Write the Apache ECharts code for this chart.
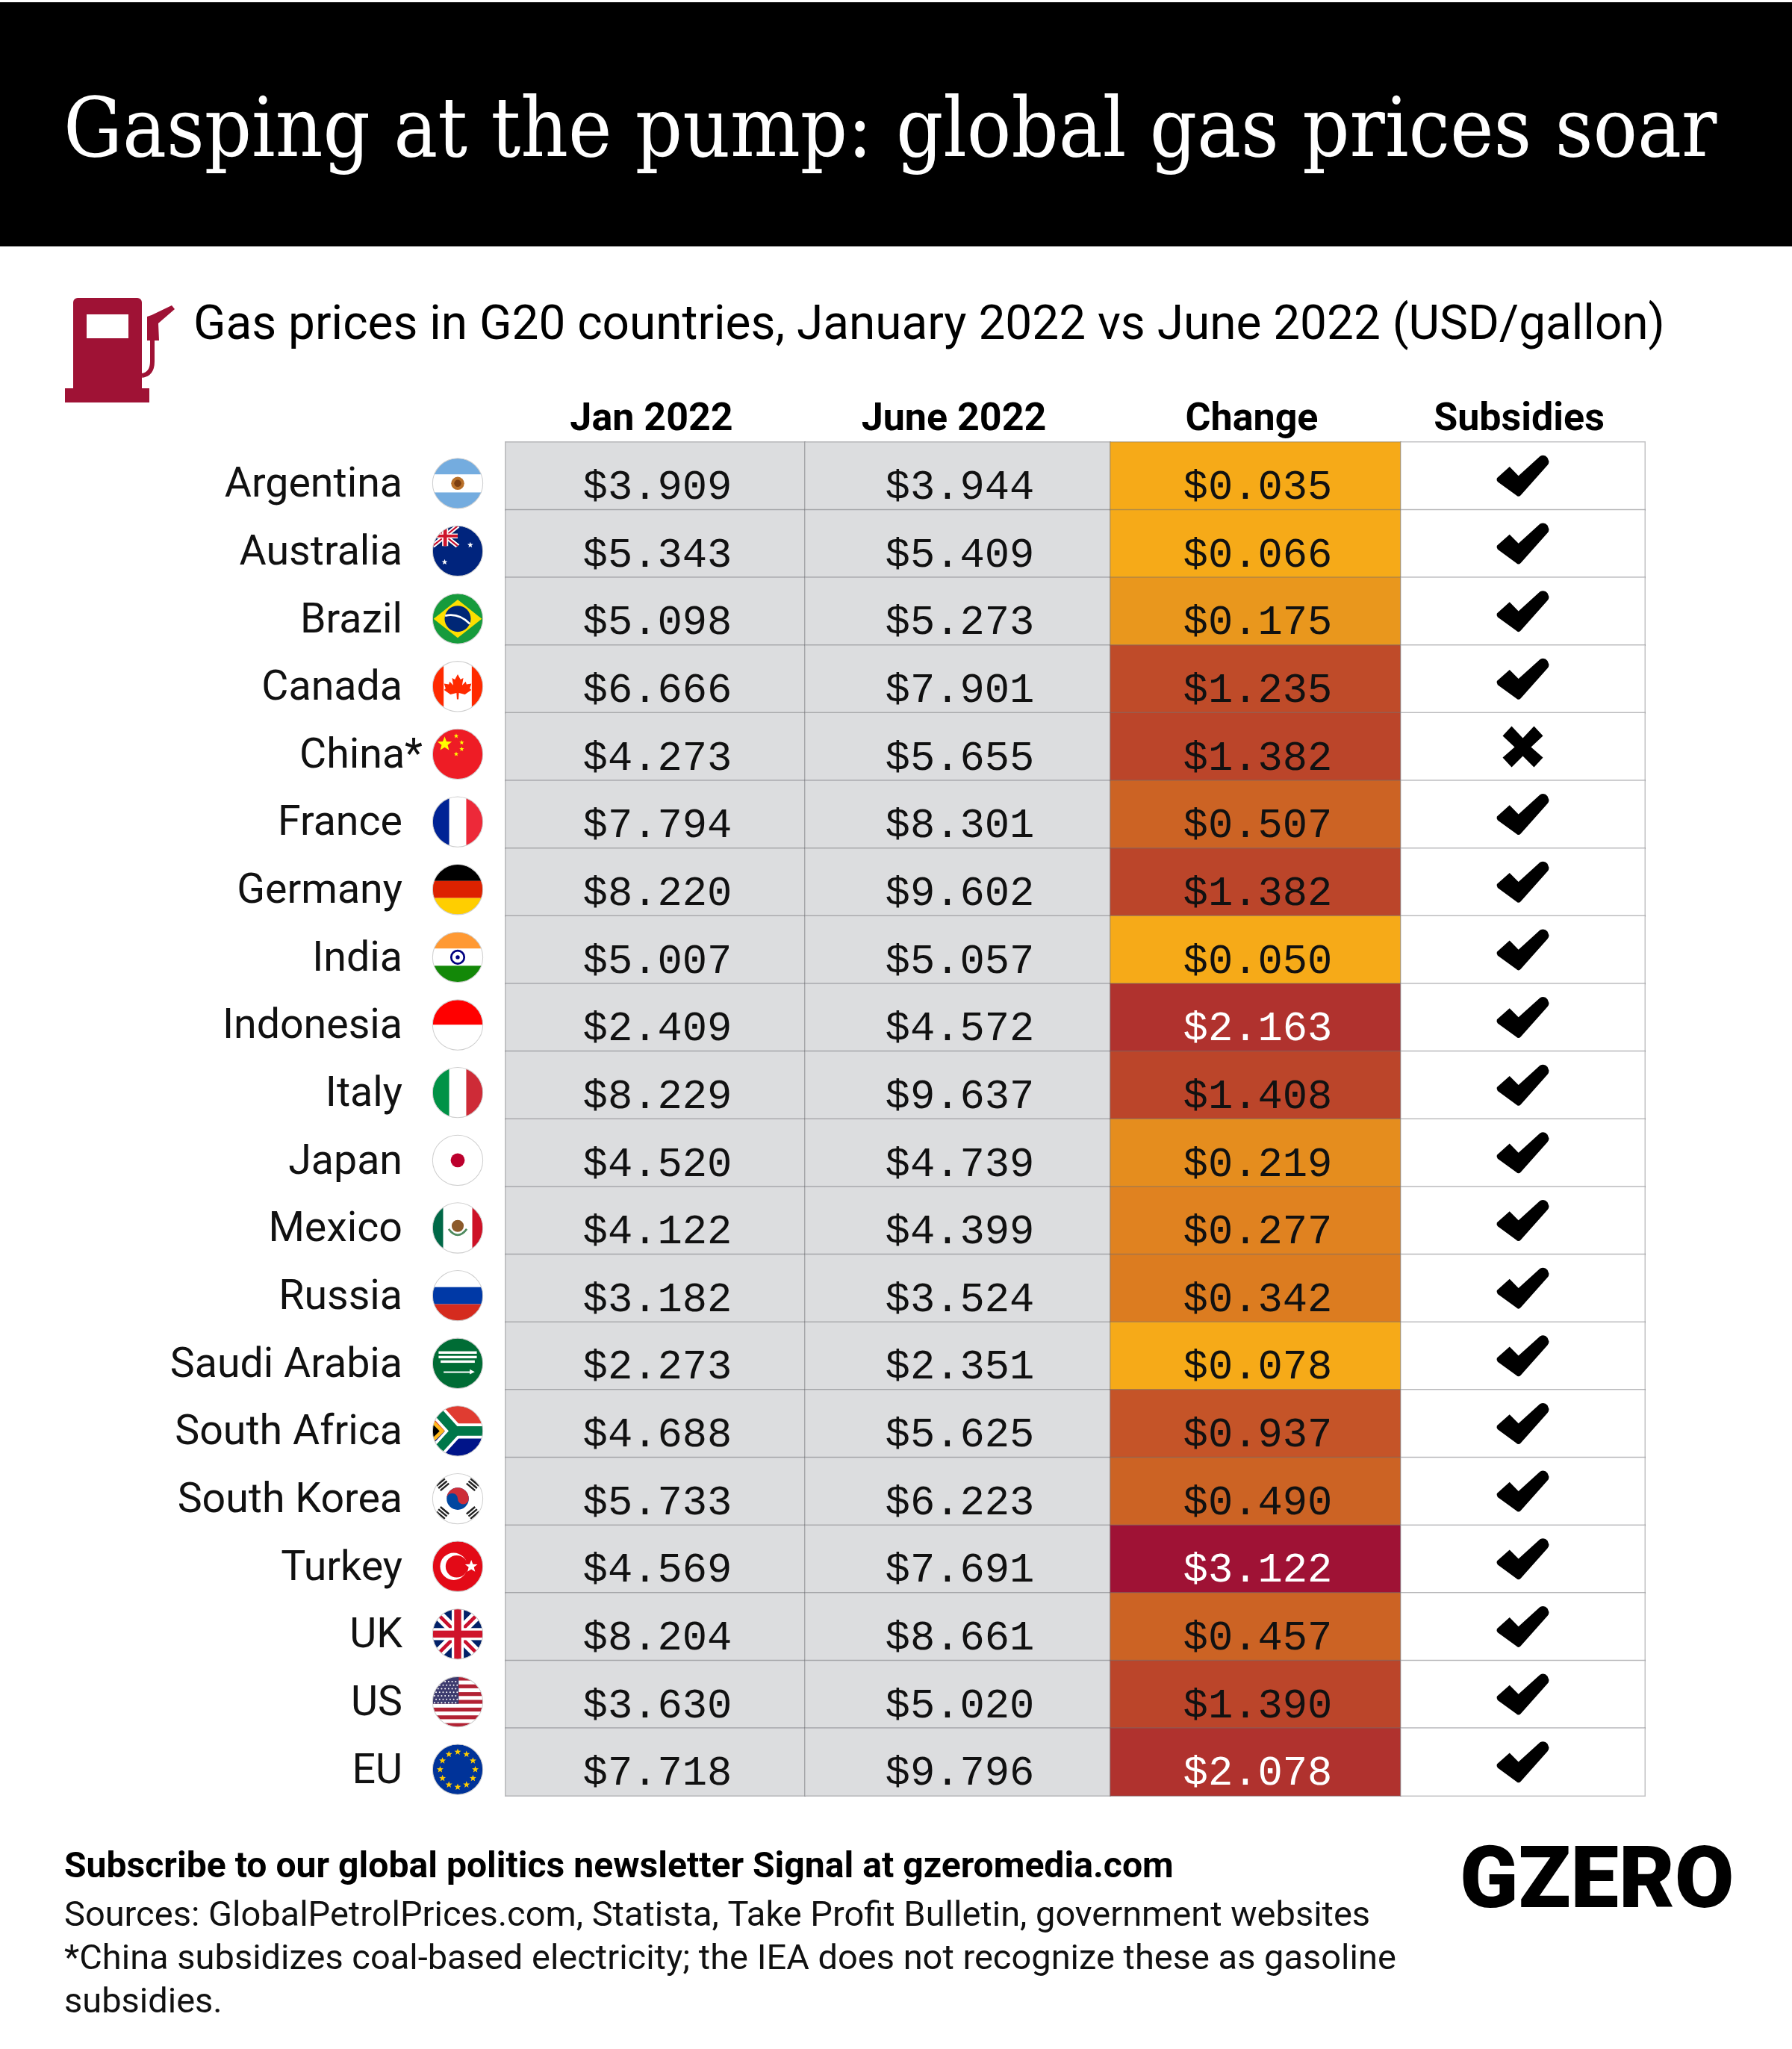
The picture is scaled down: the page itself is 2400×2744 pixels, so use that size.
<!DOCTYPE html>
<html>
<head>
<meta charset="utf-8">
<title>Gasping at the pump</title>
<script src="https://cdn.jsdelivr.net/npm/echarts@6/dist/echarts.min.js"></script>
<style>
html, body { margin: 0; background: #fff; }
#chart { width: 2400px; height: 2744px; }
</style>
</head>
<body>
<div id="chart"></div>
<script>
const countries = ['Argentina', 'Australia', 'Brazil', 'Canada', 'China*', 'France', 'Germany', 'India', 'Indonesia', 'Italy',
    'Japan', 'Mexico', 'Russia', 'Saudi Arabia', 'South Africa', 'South Korea', 'Turkey', 'UK', 'US', 'EU'];
const janPrices = [3.909, 5.343, 5.098, 6.666, 4.273, 7.794, 8.220, 5.007, 2.409, 8.229,
    4.520, 4.122, 3.182, 2.273, 4.688, 5.733, 4.569, 8.204, 3.630, 7.718];
const junePrices = [3.944, 5.409, 5.273, 7.901, 5.655, 8.301, 9.602, 5.057, 4.572, 9.637,
    4.739, 4.399, 3.524, 2.351, 5.625, 6.223, 7.691, 8.661, 5.020, 9.796];
const changes = [0.035, 0.066, 0.175, 1.235, 1.382, 0.507, 1.382, 0.050, 2.163, 1.408,
    0.219, 0.277, 0.342, 0.078, 0.937, 0.490, 3.122, 0.457, 1.390, 2.078];
const subsidies = [1, 1, 1, 1, 0, 1, 1, 1, 1, 1, 1, 1, 1, 1, 1, 1, 1, 1, 1, 1];
const columnNames = ['Jan 2022', 'June 2022', 'Change', 'Subsidies'];

const FONT = 'Roboto';
const MONO = '"Liberation Mono"';
const GRID_TOP = 592;
const GRID_HEIGHT = 1813;
const BORDER = 'rgba(110,110,115,0.42)';
const CHECK = 'path://M0 30 L17 15 L29 27 L58 1 Q64 -2 68 3 L70 8 Q70 11 68 13 L32 53 Q29 56 26 53 L1 35 Q-1 32 0 30 Z';
const CROSS = 'path://M0 13 L12 0 L27 16 L42 0 L54 13 L38 28 L54 42 L42 55 L27 40 L12 55 L0 42 L16 28 Z';

// column edges in px, the columns are not equally wide
const columnEdges = [677, 1078, 1487, 1876, 2203];

function star(cx, cy, r, fill) {
    const pts = [];
    for (let i = 0; i < 10; i++) {
        const rad = i % 2 ? r * 0.42 : r;
        const a = -Math.PI / 2 + i * Math.PI / 5;
        pts.push((cx + rad * Math.cos(a)).toFixed(1) + ',' + (cy + rad * Math.sin(a)).toFixed(1));
    }
    return `<polygon points="${pts.join(' ')}" fill="${fill}"/>`;
}
const rect = (x, y, w, h, fill) => `<rect x="${x}" y="${y}" width="${w}" height="${h}" fill="${fill}"/>`;
const disc = (cx, cy, r, fill) => `<circle cx="${cx}" cy="${cy}" r="${r}" fill="${fill}"/>`;

function unionJack(w, h) {
    const s = w / 100;
    return `<g transform="scale(${s} ${h / 100})">` + rect(0, 0, 100, 100, '#012169')
        + '<path d="M0 0L100 100M100 0L0 100" stroke="#fff" stroke-width="20"/>'
        + '<path d="M0 0L100 100M100 0L0 100" stroke="#C8102E" stroke-width="7"/>'
        + rect(38, 0, 24, 100, '#fff') + rect(0, 38, 100, 24, '#fff')
        + rect(43, 0, 14, 100, '#CF142B') + rect(0, 43, 100, 14, '#CF142B') + '</g>';
}

function euStars() {
    let out = '';
    for (let i = 0; i < 12; i++) {
        const a = i * Math.PI / 6;
        out += star(50 + 35 * Math.cos(a), 50 + 35 * Math.sin(a), 7, '#FFCC00');
    }
    return out;
}

function usStripes() {
    let out = rect(0, 0, 100, 100, '#fff');
    for (let i = 0; i < 7; i++) out += rect(0, i * 15.4, 100, 7.7, '#B22234');
    out += rect(0, 0, 52, 54, '#3C3B6E');
    for (let r = 0; r < 7; r++) {
        for (let c = 0; c < 7; c++) out += disc(4 + c * 7 + (r % 2) * 3, 10 + r * 7, 1.5, '#fff');
    }
    return out;
}

function trigram(x, y, deg) {
    return `<g transform="translate(${x} ${y}) rotate(${deg})">`
        + rect(-11, -8, 22, 3.6, '#222') + rect(-11, -1.8, 22, 3.6, '#222') + rect(-11, 4.4, 22, 3.6, '#222') + '</g>';
}

const flagArt = {
    'Argentina': rect(0, 0, 100, 100, '#74ACDF') + rect(0, 32, 100, 36, '#fff') + disc(50, 50, 13, '#B8702A') + disc(50, 50, 7, '#7C3F12'),
    'Australia': rect(0, 0, 100, 100, '#00247D') + unionJack(50, 40) + star(24, 72, 6, '#fff') + star(75, 38, 6, '#fff'),
    'Brazil': rect(0, 0, 100, 100, '#169B3C') + '<polygon points="2,50 50,12 98,50 50,88" fill="#FEDF00"/>' + disc(50, 50, 26, '#002776')
        + '<path d="M25 44Q52 38 74 60" stroke="#fff" stroke-width="4" fill="none"/>',
    'Canada': rect(0, 0, 100, 100, '#fff') + rect(0, 0, 22, 100, '#FF2A00') + rect(78, 0, 22, 100, '#FF2A00')
        + '<polygon points="50,20 57,33 64,29 61,47 70,38 72,45 84,43 80,55 84,59 68,70 53,66 52,82 48,82 47,66 32,70 16,59 20,55 16,43 28,45 30,38 39,47 36,29 43,33" transform="translate(10 10) scale(.8)" fill="#FF2A00"/>',
    'China*': rect(0, 0, 100, 100, '#EE1C25') + star(24, 30, 15, '#FFFF00') + star(47, 14, 5, '#FFFF00') + star(58, 27, 5, '#FFFF00') + star(58, 40, 5, '#FFFF00') + star(47, 50, 5, '#FFFF00'),
    'France': rect(0, 0, 100, 100, '#fff') + rect(0, 0, 33, 100, '#002395') + rect(67, 0, 33, 100, '#ED2939'),
    'Germany': rect(0, 0, 100, 33, '#000') + rect(0, 33, 100, 34, '#DD2200') + rect(0, 67, 100, 33, '#FFCE00'),
    'India': rect(0, 0, 100, 33, '#FF9933') + rect(0, 33, 100, 34, '#fff') + rect(0, 67, 100, 33, '#138808')
        + '<circle cx="50" cy="50" r="13" fill="none" stroke="#000080" stroke-width="4"/>' + disc(50, 50, 4, '#000080'),
    'Indonesia': rect(0, 0, 100, 50, '#FF0000') + rect(0, 50, 100, 50, '#fff'),
    'Italy': rect(0, 0, 100, 100, '#fff') + rect(0, 0, 33, 100, '#009246') + rect(67, 0, 33, 100, '#CE2B37'),
    'Japan': rect(0, 0, 100, 100, '#fff') + disc(50, 50, 14, '#BC002D'),
    'Mexico': rect(0, 0, 100, 100, '#fff') + rect(0, 0, 21, 100, '#006847') + rect(79, 0, 21, 100, '#CE1126')
        + disc(50, 46, 12, '#8C5A2B') + '<path d="M32 52Q50 76 68 52" stroke="#4E8A5E" stroke-width="4" fill="none"/>',
    'Russia': rect(0, 0, 100, 33, '#fff') + rect(0, 33, 100, 34, '#0039A6') + rect(0, 67, 100, 33, '#D52B1E'),
    'Saudi Arabia': rect(0, 0, 100, 100, '#006C35') + rect(12, 26, 76, 5, '#fff') + rect(12, 35, 76, 5, '#fff') + rect(16, 44, 68, 5, '#fff')
        + rect(22, 66, 56, 3, '#fff') + '<polygon points="74,62 84,67 74,72" fill="#fff"/>',
    'South Africa': rect(0, 0, 100, 50, '#E03C31') + rect(0, 50, 100, 50, '#001489')
        + '<path d="M-5 -5L45 50L-5 105" stroke="#fff" stroke-width="30" fill="none"/><path d="M45 50H105" stroke="#fff" stroke-width="30"/>'
        + '<path d="M-5 -5L45 50L-5 105" stroke="#007749" stroke-width="19" fill="none"/><path d="M45 50H105" stroke="#007749" stroke-width="19"/>'
        + '<polygon points="0,26 24,50 0,74" fill="#FFB81C"/><polygon points="0,36 14,50 0,64" fill="#000"/>',
    'South Korea': rect(0, 0, 100, 100, '#fff') + disc(50, 50, 22, '#0047A0')
        + '<path d="M28 50A22 22 0 0 1 72 50A11 11 0 0 1 50 50A11 11 0 0 0 28 50Z" fill="#CD2E3A"/>'
        + trigram(20, 22, -40) + trigram(80, 22, 40) + trigram(20, 78, 40) + trigram(80, 78, -40),
    'Turkey': rect(0, 0, 100, 100, '#E30A17') + disc(42, 50, 27, '#fff') + disc(48, 50, 22, '#E30A17') + star(77, 50, 13, '#fff'),
    'UK': unionJack(100, 100),
    'US': usStripes(),
    'EU': rect(0, 0, 100, 100, '#003399') + euStars()
};

function flagSymbol(name) {
    const svg = '<svg xmlns="http://www.w3.org/2000/svg" width="272" height="272" viewBox="-2 -2 104 104">'
        + '<defs><clipPath id="c"><circle cx="50" cy="50" r="50"/></clipPath></defs>'
        + `<g clip-path="url(#c)">${flagArt[name]}</g>`
        + '<circle cx="50" cy="50" r="50" fill="none" stroke="#cfcfcf" stroke-width="1.5"/></svg>';
    return 'image://data:image/svg+xml;charset=utf-8,' + encodeURIComponent(svg);
}

const makeGrid = (left, right, top) => ({ left, width: right - left, top, height: GRID_HEIGHT });
const grids = [makeGrid(579, 647, GRID_TOP + 10)];
columnNames.forEach((_, i) => grids.push(makeGrid(columnEdges[i], columnEdges[i + 1], GRID_TOP)));

const xAxes = [{ type: 'category', gridIndex: 0, data: ['flag'], show: false }];
columnNames.forEach((name, i) => xAxes.push({
    type: 'category',
    gridIndex: i + 1,
    position: 'top',
    data: [name],
    axisLine: { show: false },
    axisTick: { show: false },
    axisLabel: { fontFamily: FONT, fontSize: 52, fontWeight: 'bold', color: '#000', margin: 3, padding: [0, 10, 0, 0] }
}));

const yAxes = [{
    type: 'category',
    gridIndex: 0,
    inverse: true,
    data: countries,
    axisLine: { show: false },
    axisTick: { show: false },
    axisLabel: {
        fontFamily: FONT,
        fontSize: 55.5,
        color: '#111',
        margin: 13,
        padding: [8, 0, 0, 0],
        formatter: name => name.endsWith('*') ? name : name + '{pad|}',
        rich: { pad: { width: 27 } }
    }
}];
columnNames.forEach((_, i) => yAxes.push({ type: 'category', gridIndex: i + 1, inverse: true, data: countries, show: false }));

const priceLabel = {
    show: true,
    fontFamily: MONO,
    fontSize: 55.5,
    color: '#111',
    offset: [3, 16],
    formatter: p => '$' + p.value[2].toFixed(3)
};

function cellSeries(gridIndex, values, extra) {
    return Object.assign({
        type: 'heatmap',
        xAxisIndex: gridIndex,
        yAxisIndex: gridIndex,
        data: values.map((v, i) => [0, i, v]),
        progressive: 0,
        animation: false,
        itemStyle: { borderColor: BORDER, borderWidth: 1.5 },
        emphasis: { disabled: true }
    }, extra);
}

const series = [
    {
        type: 'scatter',
        xAxisIndex: 0,
        yAxisIndex: 0,
        silent: true,
        animation: false,
        itemStyle: { opacity: 1 },
        data: countries.map((name, i) => ({ value: [0, i], symbol: flagSymbol(name), symbolSize: 70 }))
    },
    cellSeries(1, janPrices, { label: priceLabel }),
    cellSeries(2, junePrices, { label: priceLabel }),
    cellSeries(3, changes, {
        label: priceLabel,
        data: changes.map((v, i) => ({ value: [0, i, v], label: { color: v >= 2 ? '#fff' : '#111' } }))
    }),
    cellSeries(4, subsidies, { label: { show: false } }),
    {
        type: 'scatter',
        xAxisIndex: 4,
        yAxisIndex: 4,
        silent: true,
        animation: false,
        z: 5,
        itemStyle: { color: '#000', opacity: 1 },
        data: subsidies.map((v, i) => ({
            value: [0, i],
            symbol: v ? CHECK : CROSS,
            symbolSize: v ? [70, 55] : [54, 55]
        }))
    }
];

const option = {
    backgroundColor: '#fff',
    animation: false,
    grid: grids,
    xAxis: xAxes,
    yAxis: yAxes,
    visualMap: [
        {
            type: 'piecewise', show: false, dimension: 2, seriesIndex: [1, 2],
            pieces: [{ min: 0, max: 100, color: '#DCDDDF' }]
        },
        {
            type: 'piecewise', show: false, dimension: 2, seriesIndex: 3,
            pieces: [
                { max: 0.1, color: '#F6AA18' },
                { min: 0.1, max: 0.2, color: '#E9971D' },
                { min: 0.2, max: 0.25, color: '#E58D1E' },
                { min: 0.25, max: 0.3, color: '#E08220' },
                { min: 0.3, max: 0.4, color: '#DC7C20' },
                { min: 0.4, max: 0.6, color: '#CC6324' },
                { min: 0.6, max: 1, color: '#C55428' },
                { min: 1, max: 1.3, color: '#BF4B29' },
                { min: 1.3, max: 2, color: '#BB452A' },
                { min: 2, max: 3, color: '#B0322E' },
                { min: 3, color: '#9F1235' }
            ]
        },
        {
            type: 'piecewise', show: false, dimension: 2, seriesIndex: 4,
            pieces: [{ min: 0, max: 1, color: '#fff' }]
        }
    ],
    title: [
        {
            text: 'Gasping at the pump: global gas prices soar',
            left: 80, top: 120,
            textStyle: { fontFamily: '"DejaVu Serif Condensed", "DejaVu Serif"', fontSize: 110, fontWeight: 'normal', color: '#fff' }
        },
        {
            text: 'Gas prices in G20 countries, January 2022 vs June 2022 (USD/gallon)',
            left: 254, top: 401,
            textStyle: { fontFamily: FONT, fontSize: 63.9, fontWeight: 'normal', color: '#000' }
        },
        {
            text: 'Subscribe to our global politics newsletter Signal at gzeromedia.com',
            left: 81, top: 2473,
            textStyle: { fontFamily: FONT, fontSize: 48.1, fontWeight: 'bold', color: '#000' }
        },
        {
            text: 'Sources: GlobalPetrolPrices.com, Statista, Take Profit Bulletin, government websites\n*China subsidizes coal-based electricity; the IEA does not recognize these as gasoline\nsubsidies.',
            left: 81, top: 2533,
            textStyle: { fontFamily: FONT, fontSize: 47, fontWeight: 'normal', color: '#111', lineHeight: 58 }
        },
        {
            text: 'GZERO',
            left: 1950, top: 2463,
            textStyle: { fontFamily: FONT, fontSize: 115, fontWeight: 900, color: '#000' }
        }
    ],
    graphic: [
        { type: 'rect', z: -1, shape: { x: 0, y: 3, width: 2400, height: 327 }, style: { fill: '#000' } },
        {
            type: 'group',
            children: [
                { type: 'rect', shape: { x: 98, y: 399, width: 92, height: 125, r: [6, 6, 0, 0] }, style: { fill: '#9F1235' } },
                { type: 'rect', shape: { x: 87, y: 520, width: 113, height: 19 }, style: { fill: '#9F1235' } },
                { type: 'rect', shape: { x: 116, y: 421, width: 56, height: 32 }, style: { fill: '#fff' } },
                { type: 'polygon', shape: { points: [[197, 424], [203, 422], [230, 409], [234, 414], [212, 433], [213, 456], [197, 456]] }, style: { fill: '#9F1235' } },
                { type: 'line', shape: { x1: 204, y1: 456, x2: 204, y2: 484 }, style: { stroke: '#9F1235', lineWidth: 6 } },
                { type: 'bezierCurve', shape: { x1: 204, y1: 484, x2: 190, y2: 503, cpx1: 204, cpy1: 501 }, style: { stroke: '#9F1235', lineWidth: 6, fill: 'none' } }
            ]
        }
    ],
    series
};

const chart = echarts.init(document.getElementById('chart'));
chart.setOption(option);

window.onresize = function () {
    chart.resize();
};
</script>
</body>
</html>
